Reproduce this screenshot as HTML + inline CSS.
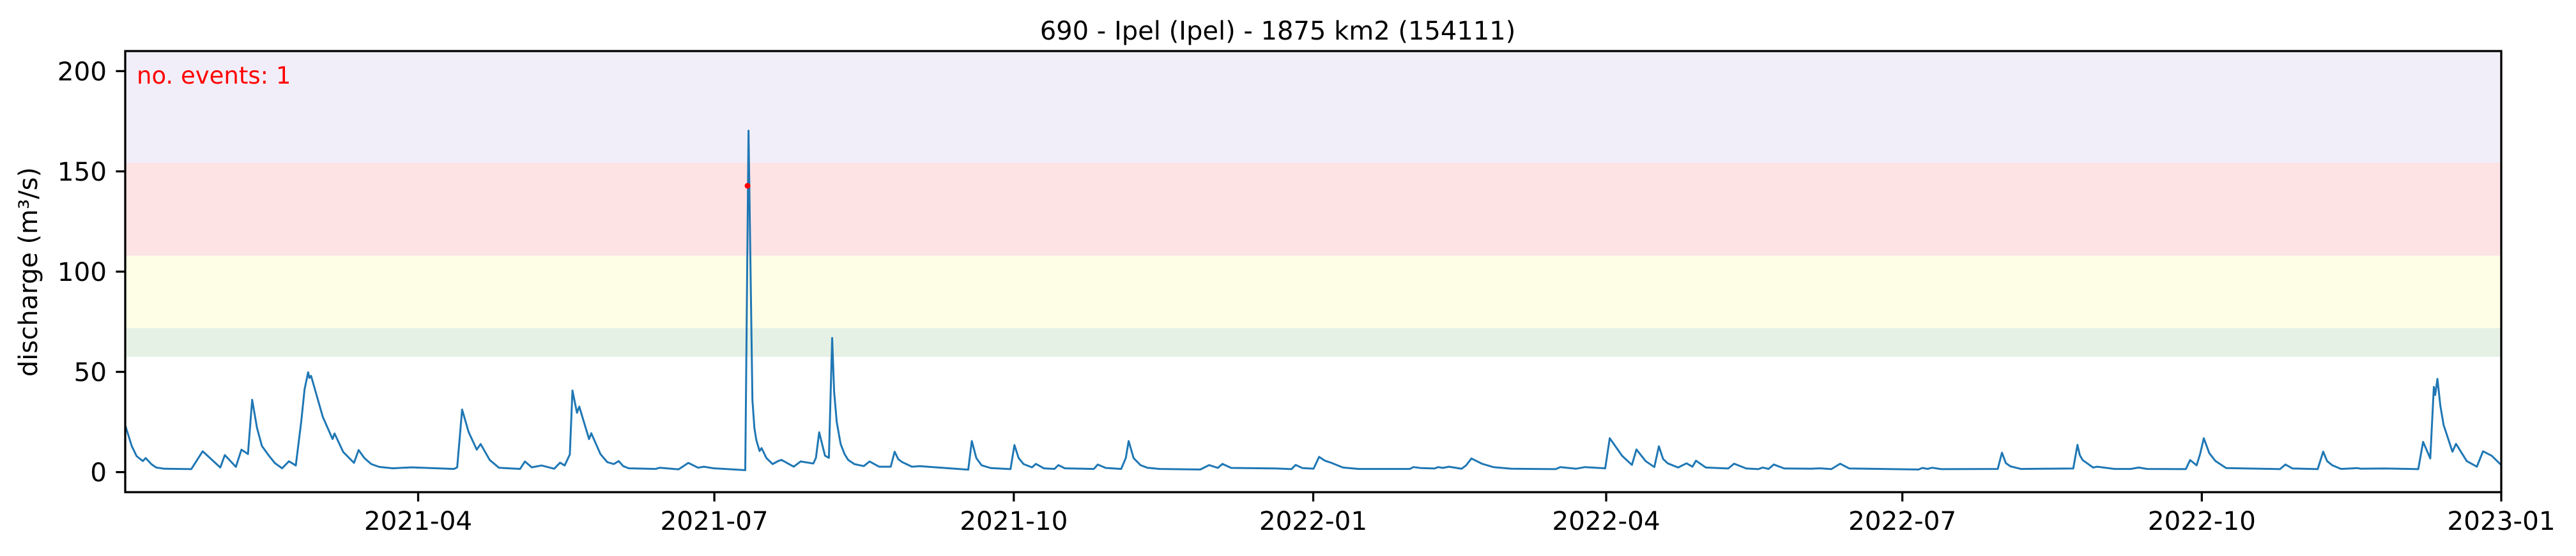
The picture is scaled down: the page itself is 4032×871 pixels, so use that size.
<!DOCTYPE html>
<html><head><meta charset="utf-8"><style>
html,body{margin:0;padding:0;background:#fff;}
svg{display:block;font-family:"DejaVu Sans","Liberation Sans",sans-serif;}
</style></head><body>
<svg id="chart" width="4032" height="871" viewBox="0 0 4032 871" xmlns="http://www.w3.org/2000/svg">
<text x="2000" y="62" text-anchor="middle" font-size="40" fill="#000">690 - Ipel (Ipel) - 1875 km2 (154111)</text>
<text transform="translate(58,426) rotate(-90)" text-anchor="middle" font-size="40" fill="#000">discharge (m³/s)</text>
<g id="bands"></g>
<g id="series"></g>
<g id="axes"></g>
<text x="214" y="131" font-size="37" fill="#ff0000">no. events: 1</text>
</svg>
<script>
const bandLows = [154.3, 107.9, 71.8, 57.5];
const bandHighs = [210, 154.3, 107.9, 71.8];
const bandColors = ['#f1eef9', '#fde3e4', '#fefee6', '#e5f1e5'];
const yTicks = [0, 50, 100, 150, 200];
const xTickDays = [90, 181, 273, 365, 455, 546, 638, 730];
const xTickLabels = ['2021-04','2021-07','2021-10','2022-01','2022-04','2022-07','2022-10','2023-01'];
const obsDays = [0,2,3.5,5.4,6.3,8,9.5,12,20.3,23.8,29.2,30.6,34,35.7,37.7,39,40.5,42,44,46,48.2,50.3,52.4,54.1,55.1,56.2,56.6,57.1,60.7,63.7,64.3,67,70.3,71.7,73.5,75.6,78,82.2,88,101,102,103.5,105.5,108,109.2,112,114.8,121.3,122.8,124.9,127.9,131.8,133.6,135,136.6,137.4,138.8,139.5,142.5,143.2,146,148.1,150.1,151.6,153,154.7,163,164.2,170,173,176,177.8,180.8,
190.5,191.5,192.7,193.3,193.9,194.9,195.5,197,198.9,200.7,201.6,205.4,207.5,211.4,212.2,213.2,215,216.2,217.2,217.8,218.6,219.8,221,222.1,224,226.9,228.7,231.6,235.2,236.4,237.5,238.7,241.7,244.1,259,260.1,261.5,263.1,266,272,273.2,274.5,276,278.6,279.8,282.2,285.5,286.7,288.7,297.6,298.8,301.2,306,307.4,308.3,309.8,311.9,314,317.8,330.3,333,335.7,337.1,339.8,353.5,358.3,359.6,361.7,365.1,366.8,368.6,370.6,374.1,378.9,394.7,395.8,398.2,402.3,403.4,404.8,406.7,410.6,412,413.6,416.8,420.3,425.8,439.5,440.9,445.7,448.5,454.7,456.1,459.9,462.9,464.3,467.1,469.8,471.2,472.5,473.9,477.1,479.7,481.5,482.6,485.6,492.5,494.3,498,501.7,503.1,504.9,506.5,509.7,518,520.7,524.2,526.9,529.7,551,552.1,553.8,555.1,557.9,575.3,576.6,577.8,579.2,582.4,598.5,599.8,600.5,601.4,604.6,605.9,611.2,616.2,618.6,621.2,633.1,634.4,636.4,637.5,638.6,640.3,642.2,645.5,662,663.7,665.9,673.6,675.3,676.5,678.1,680.8,685.8,686.9,694.1,704.5,706,708.2,709.3,709.7,710.4,711.3,712.3,715,716.1,719.4,722.5,724.4,727.1,730];
const obsValues = [23.4,13,8,5.5,7,4,2.3,1.7,1.5,10.4,2.3,8.5,2.6,11.2,9,36.1,22,13,8.5,4.5,1.9,5.4,3.3,25.5,41.3,49.8,47,48,27.6,16.5,19.3,10,4.6,11,7,4,2.6,1.9,2.4,1.6,2.4,31.2,20,11.2,14,6,2.2,1.6,5.3,2.4,3.3,1.7,4.7,3.3,8.8,40.7,29.6,32.7,16.5,19.4,9,5,4,5.5,3,1.9,1.6,2.2,1.4,4.6,2.2,2.7,1.9,
1.0,170.3,36,22,16,10.5,12,7,4,5.6,6.1,2.7,5.3,4.3,7.1,19.9,8.2,7.1,66.9,40,24.9,14,9,6.1,4,3,5.3,2.7,2.7,10.2,6.5,5,2.7,3,1.2,15.5,7,3.4,2,1.5,13.5,7,4,2.4,4.1,1.9,1.6,3.5,1.9,1.6,3.8,2.1,1.6,7,15.5,7,3.5,2.2,1.6,1.3,3.5,2.1,4.1,2.1,1.8,1.5,3.6,2,1.7,7.6,5.7,4.6,2.3,1.6,1.6,2.5,2,1.8,2.5,2.1,2.7,1.7,3.4,6.8,4.2,2.5,1.7,1.5,2.5,1.7,2.5,1.9,16.9,8.1,3.6,11.3,5.5,2.5,12.9,6.5,4.4,2.3,4.4,2.7,5.7,2.3,1.8,4.2,1.8,1.5,2.3,1.6,3.8,1.8,1.7,1.9,1.5,4.2,1.8,1.3,2.1,1.6,2.2,1.5,1.6,9.7,4.5,2.9,1.6,1.8,13.6,8.5,6,2.3,2.7,1.6,1.6,2.3,1.6,1.5,6,3.4,9.2,16.9,9.5,5.5,2,1.5,3.8,1.8,1.5,10.2,5.5,3.4,1.6,2,1.7,1.8,1.5,15.1,6.8,42.5,38.5,46.5,33,23.5,10.2,14.1,5.5,2.7,10.4,8.1,3.5];
const eventDays = [191.2];
const eventValues = [142.8];

const NS = 'http://www.w3.org/2000/svg';
const L = 196, R = 3915, T = 80, B = 771, DAYS = 730, YMIN = -10, YMAX = 210;
function xs(d){ return L + d * (R - L) / DAYS; }
function ys(v){ return B - (v - YMIN) * (B - T) / (YMAX - YMIN); }
function mk(tag, attrs, parent){ const e = document.createElementNS(NS, tag); for (const k in attrs) e.setAttribute(k, attrs[k]); parent.appendChild(e); return e; }

const bands = document.getElementById('bands');
for (let i = 0; i < bandLows.length; i++) {
  const r = mk('rect', {x: L, y: ys(bandHighs[i]), width: R - L, height: ys(bandLows[i]) - ys(bandHighs[i]), fill: bandColors[i]}, bands);
  
  
}

const series = document.getElementById('series');
let d = '';
for (let i = 0; i < obsDays.length; i++) d += (i ? 'L' : 'M') + xs(obsDays[i]).toFixed(1) + ' ' + ys(obsValues[i]).toFixed(1);
const line = mk('path', {d: d, fill: 'none', stroke: '#1f77b4', 'stroke-width': 3, 'stroke-linejoin': 'round'}, series);


for (let i = 0; i < eventDays.length; i++) {
  const c = mk('circle', {cx: xs(eventDays[i]), cy: ys(eventValues[i]), r: 4.5, fill: '#ff0000'}, series);
  
  
}

const axes = document.getElementById('axes');
const frame = mk('rect', {x: L, y: T, width: R - L, height: B - T, fill: 'none', stroke: '#000', 'stroke-width': 3.3}, axes);


for (let i = 0; i < yTicks.length; i++) {
  const y = ys(yTicks[i]);
  const t = mk('line', {x1: L - 14.6, x2: L, y1: y, y2: y, stroke: '#000', 'stroke-width': 3.3}, axes);
  
  
  const lb = mk('text', {x: L - 29, y: y + 14.5, 'text-anchor': 'end', 'font-size': 40.5, fill: '#000'}, axes);
  lb.textContent = yTicks[i];
  
  
}
for (let i = 0; i < xTickDays.length; i++) {
  const x = xs(xTickDays[i]);
  const t = mk('line', {x1: x, x2: x, y1: B, y2: B + 14.6, stroke: '#000', 'stroke-width': 3.3}, axes);
  
  
  const lb = mk('text', {x: x, y: 830, 'text-anchor': 'middle', 'font-size': 40.5, fill: '#000'}, axes);
  lb.textContent = xTickLabels[i];
  
  
}
</script>
</body></html>
